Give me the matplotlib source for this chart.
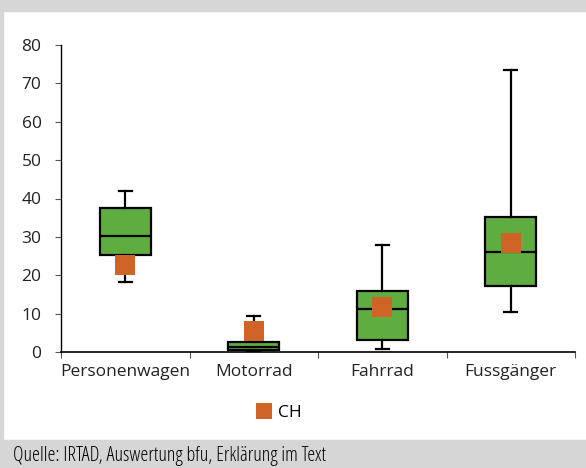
import matplotlib
matplotlib.use("Agg")
import matplotlib.pyplot as plt
from matplotlib.patches import Rectangle

categories = ["Personenwagen", "Motorrad", "Fahrrad", "Fussgänger"]
whislo = [18.2, 0.3, 0.7, 10.3]
q1 = [25.3, 0.4, 3.1, 17.3]
med = [30.3, 1.2, 11.3, 26.0]
q3 = [37.5, 2.5, 15.9, 35.2]
whishi = [42.0, 9.5, 28.0, 73.4]
ch_values = [22.8, 5.6, 11.6, 28.3]
yticks = [0, 10, 20, 30, 40, 50, 60, 70, 80]

green = "#5FAD41"
orange = "#D06427"
gray = "#D6D6D6"

plt.rcParams['font.family'] = ['Open Sans', 'DejaVu Sans']

fig = plt.figure(figsize=(5.86, 4.68), dpi=100)
fig.patch.set_facecolor("white")
fig.patches.append(Rectangle((0, 0), 1, 28/468, transform=fig.transFigure, color=gray, zorder=0))
fig.patches.append(Rectangle((0, 1 - 11/468), 1, 11/468, transform=fig.transFigure, color=gray, zorder=0))
fig.patches.append(Rectangle((0, 0), 3/586, 1, transform=fig.transFigure, color=gray, zorder=0))

ax = fig.add_axes([61/586, 116/468, 514/586, 307/468])
stats = []
for i, c in enumerate(categories):
    stats.append(dict(label=c, whislo=whislo[i], q1=q1[i], med=med[i], q3=q3[i], whishi=whishi[i], fliers=[]))
pos = list(range(1, len(categories) + 1))
lw = 1.6
ax.bxp(stats, positions=pos, widths=0.4, patch_artist=True, showfliers=False,
       boxprops=dict(facecolor=green, edgecolor="black", linewidth=lw),
       medianprops=dict(color="black", linewidth=lw),
       whiskerprops=dict(color="black", linewidth=lw),
       capprops=dict(color="black", linewidth=lw),
       capwidths=0.1)
ax.plot(pos, ch_values, linestyle="none", marker="s", markersize=14, color=orange,
        markeredgewidth=0, label="CH", zorder=5)

ax.set_xlim(0.5, 4.5)
ax.set_ylim(0, 80)
ax.set_yticks(yticks)
ax.set_yticklabels([str(v) for v in yticks], fontsize=12.5, color="#222222")
ax.set_xticks(pos)
ax.set_xticklabels(categories, fontsize=12.5, color="#222222")
ax.tick_params(axis="x", which="major", length=0, pad=9)
ax.set_xticks([0.5, 1.5, 2.5, 3.5, 4.5], minor=True)
ax.tick_params(axis="x", which="minor", length=4, width=0.8, color="#555555")
ax.tick_params(axis="y", length=4, width=0.8, color="#555555", pad=10)
for s in ["top", "right"]:
    ax.spines[s].set_visible(False)
ax.spines["left"].set_linewidth(1)
ax.spines["bottom"].set_linewidth(1.2)

leg = fig.legend(handles=[ax.lines[-1]], labels=["CH"], loc="center",
                 bbox_to_anchor=(280/586, 1 - 413/468), frameon=False, fontsize=12.5,
                 handlelength=0.6, handletextpad=0.5, markerscale=0.85)

fig.text(13/586, 1 - 456/468, "Quelle: IRTAD, Auswertung bfu, Erklärung im Text",
         fontsize=14.5, va="center", ha="left", color="#000000", stretch="condensed",
         weight="normal")

fig.savefig("out.png", dpi=100)
